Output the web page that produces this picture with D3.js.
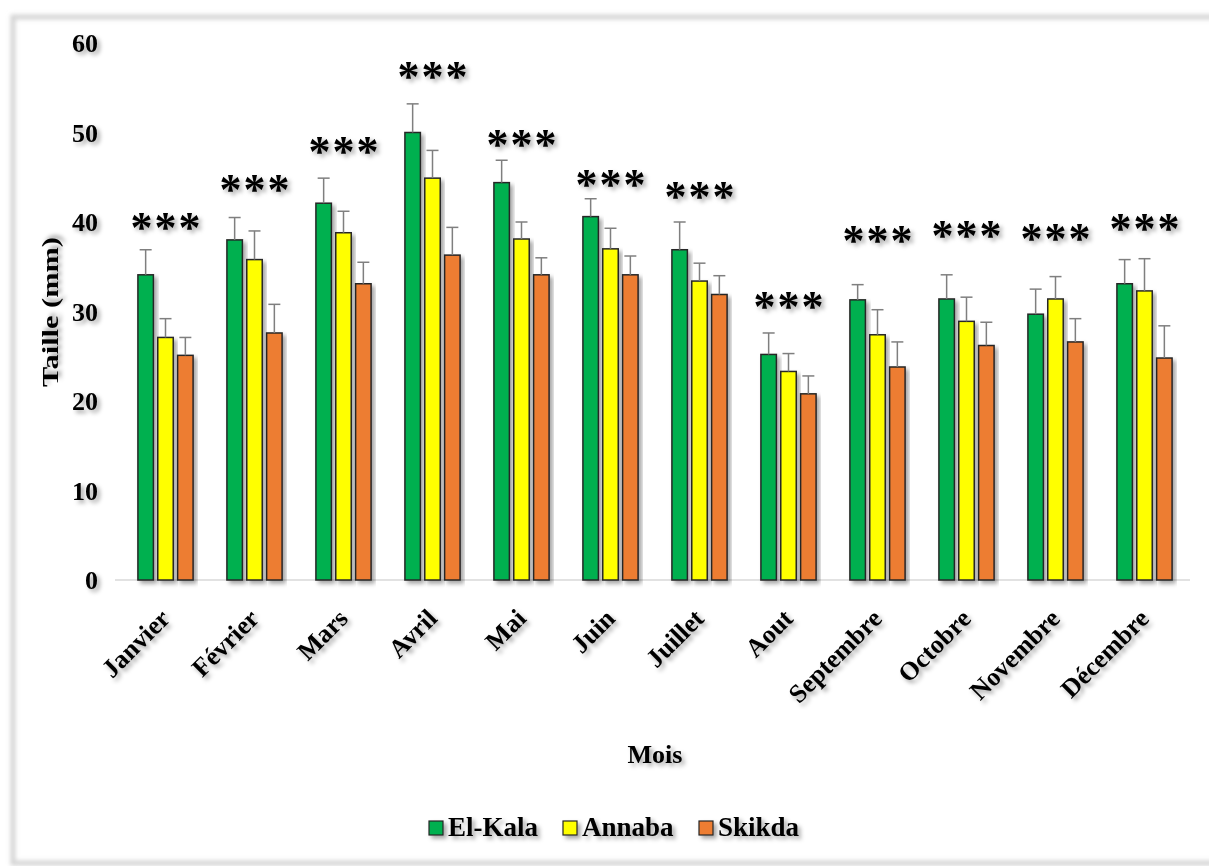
<!DOCTYPE html>
<html>
<head>
<meta charset="utf-8">
<script src="https://cdn.jsdelivr.net/npm/d3@7"></script>
<style>
  body { margin: 0; background: #fff; }
  text { font-family: "Liberation Serif", "Times New Roman", serif; font-weight: bold; fill: #000; }
</style>
</head>
<body>
<div id="chart"></div>
<script>
const months = ["Janvier", "Février", "Mars", "Avril", "Mai", "Juin", "Juillet", "Aout", "Septembre", "Octobre", "Novembre", "Décembre"];
const sites = ["El-Kala", "Annaba", "Skikda"];

// mean size (mm) per month
const elKala = [34.1, 38.0, 42.1, 50.0, 44.4, 40.6, 36.9, 25.2, 31.3, 31.4, 29.7, 33.1];
const annaba = [27.1, 35.8, 38.8, 44.9, 38.1, 37.0, 33.4, 23.3, 27.4, 28.9, 31.4, 32.3];
const skikda = [25.1, 27.6, 33.1, 36.3, 34.1, 34.1, 31.9, 20.8, 23.8, 26.2, 26.6, 24.8];

// standard deviations (upper error bars)
const elKalaErr = [2.8, 2.5, 2.8, 3.2, 2.5, 2.0, 3.1, 2.4, 1.7, 2.7, 2.8, 2.7];
const annabaErr = [2.1, 3.2, 2.4, 3.1, 1.9, 2.3, 2.0, 2.0, 2.8, 2.7, 2.5, 3.6];
const skikdaErr = [2.0, 3.2, 2.4, 3.1, 1.9, 2.1, 2.1, 2.0, 2.8, 2.6, 2.6, 3.6];

// significance labels and their height (mm units)
const signif = ["***", "***", "***", "***", "***", "***", "***", "***", "***", "***", "***", "***"];
const signifAt = [40.0, 44.2, 48.5, 56.8, 49.3, 44.8, 43.4, 31.2, 38.5, 39.1, 38.7, 39.9];

const yTicks = [0, 10, 20, 30, 40, 50, 60];

const colors = ["#00b050", "#ffff00", "#ed7d31"];
const values = [elKala, annaba, skikda];
const errors = [elKalaErr, annabaErr, skikdaErr];

const width = 1209;
const height = 866;

const svg = d3.select("#chart")
  .append("svg")
  .attr("width", width)
  .attr("height", height);

const defs = svg.append("defs");
const shadow = defs.append("filter")
  .attr("id", "shadow")
  .attr("x", "-30%").attr("y", "-30%")
  .attr("width", "160%").attr("height", "160%");
shadow.append("feDropShadow")
  .attr("dx", 3).attr("dy", 3)
  .attr("stdDeviation", 2)
  .attr("flood-color", "#000")
  .attr("flood-opacity", 0.35);

const blur = defs.append("filter").attr("id", "blur");
blur.append("feGaussianBlur").attr("stdDeviation", 2);

// outer frame
svg.append("rect")
  .attr("x", 13).attr("y", 17)
  .attr("width", 1230).attr("height", 846)
  .attr("fill", "none")
  .attr("stroke", "#d4d4d4")
  .attr("stroke-width", 5)
  .attr("filter", "url(#blur)");

const x0 = d3.scaleBand()
  .domain(months)
  .range([121, 1189])
  .paddingInner(0.38)
  .paddingOuter(0.19);

const x1 = d3.scaleBand()
  .domain(sites)
  .range([0, x0.bandwidth()])
  .paddingInner(0.22);

const y = d3.scaleLinear()
  .domain([0, 60])
  .range([580, 43]);

// x axis line
svg.append("line")
  .attr("x1", 115).attr("x2", 1190)
  .attr("y1", y(0)).attr("y2", y(0))
  .attr("stroke", "#d9d9d9")
  .attr("stroke-width", 1.5);

// y tick labels
svg.append("g")
  .attr("filter", "url(#shadow)")
  .selectAll("text")
  .data(yTicks)
  .join("text")
  .attr("x", 98)
  .attr("y", (d) => y(d))
  .attr("dy", "0.35em")
  .attr("text-anchor", "end")
  .attr("font-size", 26)
  .text((d) => d);

// bars
const groups = svg.append("g")
  .selectAll("g")
  .data(months)
  .join("g")
  .attr("transform", (d) => `translate(${x0(d)},0)`);

const barData = (m, i) => sites.map((s, k) => ({
  site: s, k: k, value: values[k][i], err: errors[k][i]
}));

groups.each(function (m, i) {
  const g = d3.select(this);
  const data = barData(m, i);

  g.selectAll("rect")
    .data(data)
    .join("rect")
    .attr("x", (d) => x1(d.site))
    .attr("y", (d) => y(d.value))
    .attr("width", x1.bandwidth())
    .attr("height", (d) => y(0) - y(d.value))
    .attr("fill", (d) => colors[d.k])
    .attr("stroke", "#262626")
    .attr("stroke-width", 1.5)
    .attr("filter", "url(#shadow)");

  const eb = g.selectAll("g.err")
    .data(data)
    .join("g")
    .attr("class", "err")
    .attr("stroke", "#7f7f7f")
    .attr("stroke-width", 1.5);

  eb.append("line")
    .attr("x1", (d) => x1(d.site) + x1.bandwidth() / 2)
    .attr("x2", (d) => x1(d.site) + x1.bandwidth() / 2)
    .attr("y1", (d) => y(d.value))
    .attr("y2", (d) => y(d.value + d.err));

  eb.append("line")
    .attr("x1", (d) => x1(d.site) + x1.bandwidth() / 2 - 6)
    .attr("x2", (d) => x1(d.site) + x1.bandwidth() / 2 + 6)
    .attr("y1", (d) => y(d.value + d.err))
    .attr("y2", (d) => y(d.value + d.err));
});

// significance stars
const starSpacing = 2;
svg.append("g")
  .attr("filter", "url(#shadow)")
  .selectAll("text")
  .data(months)
  .join("text")
  .attr("x", (d) => x0(d) + x0.bandwidth() / 2 + starSpacing / 2)
  .attr("y", (d, i) => y(signifAt[i]))
  .attr("dy", "0.45em")
  .attr("text-anchor", "middle")
  .attr("font-family", "'Liberation Sans', Arial, sans-serif")
  .attr("font-weight", "normal")
  .attr("font-size", 44)
  .attr("letter-spacing", starSpacing)
  .text((d, i) => signif[i]);

// month labels
svg.append("g")
  .attr("filter", "url(#shadow)")
  .selectAll("text")
  .data(months)
  .join("text")
  .attr("text-anchor", "end")
  .attr("font-size", 26)
  .attr("transform", (d) => `translate(${x0(d) + x0.bandwidth() / 2 + 6},${y(0) + 40}) rotate(-45)`)
  .text((d) => d);

// axis titles
svg.append("text")
  .attr("transform", `translate(58,${312}) rotate(-90)`)
  .attr("text-anchor", "middle")
  .attr("font-size", 23)
  .attr("textLength", 150)
  .attr("lengthAdjust", "spacingAndGlyphs")
  .attr("filter", "url(#shadow)")
  .text("Taille (mm)");

svg.append("text")
  .attr("x", 655)
  .attr("y", 763)
  .attr("text-anchor", "middle")
  .attr("font-size", 26)
  .attr("filter", "url(#shadow)")
  .text("Mois");

// legend
const legend = svg.append("g")
  .attr("filter", "url(#shadow)")
  .attr("transform", "translate(429,821)");

const legendX = [0, 134, 270];
const item = legend.selectAll("g")
  .data(sites)
  .join("g")
  .attr("transform", (d, i) => `translate(${legendX[i]},0)`);

item.append("rect")
  .attr("width", 14).attr("height", 14)
  .attr("fill", (d, i) => colors[i])
  .attr("stroke", "#262626")
  .attr("stroke-width", 1.2);

item.append("text")
  .attr("x", 19)
  .attr("y", 15)
  .attr("font-size", 27)
  .text((d) => d);
</script>
</body>
</html>
